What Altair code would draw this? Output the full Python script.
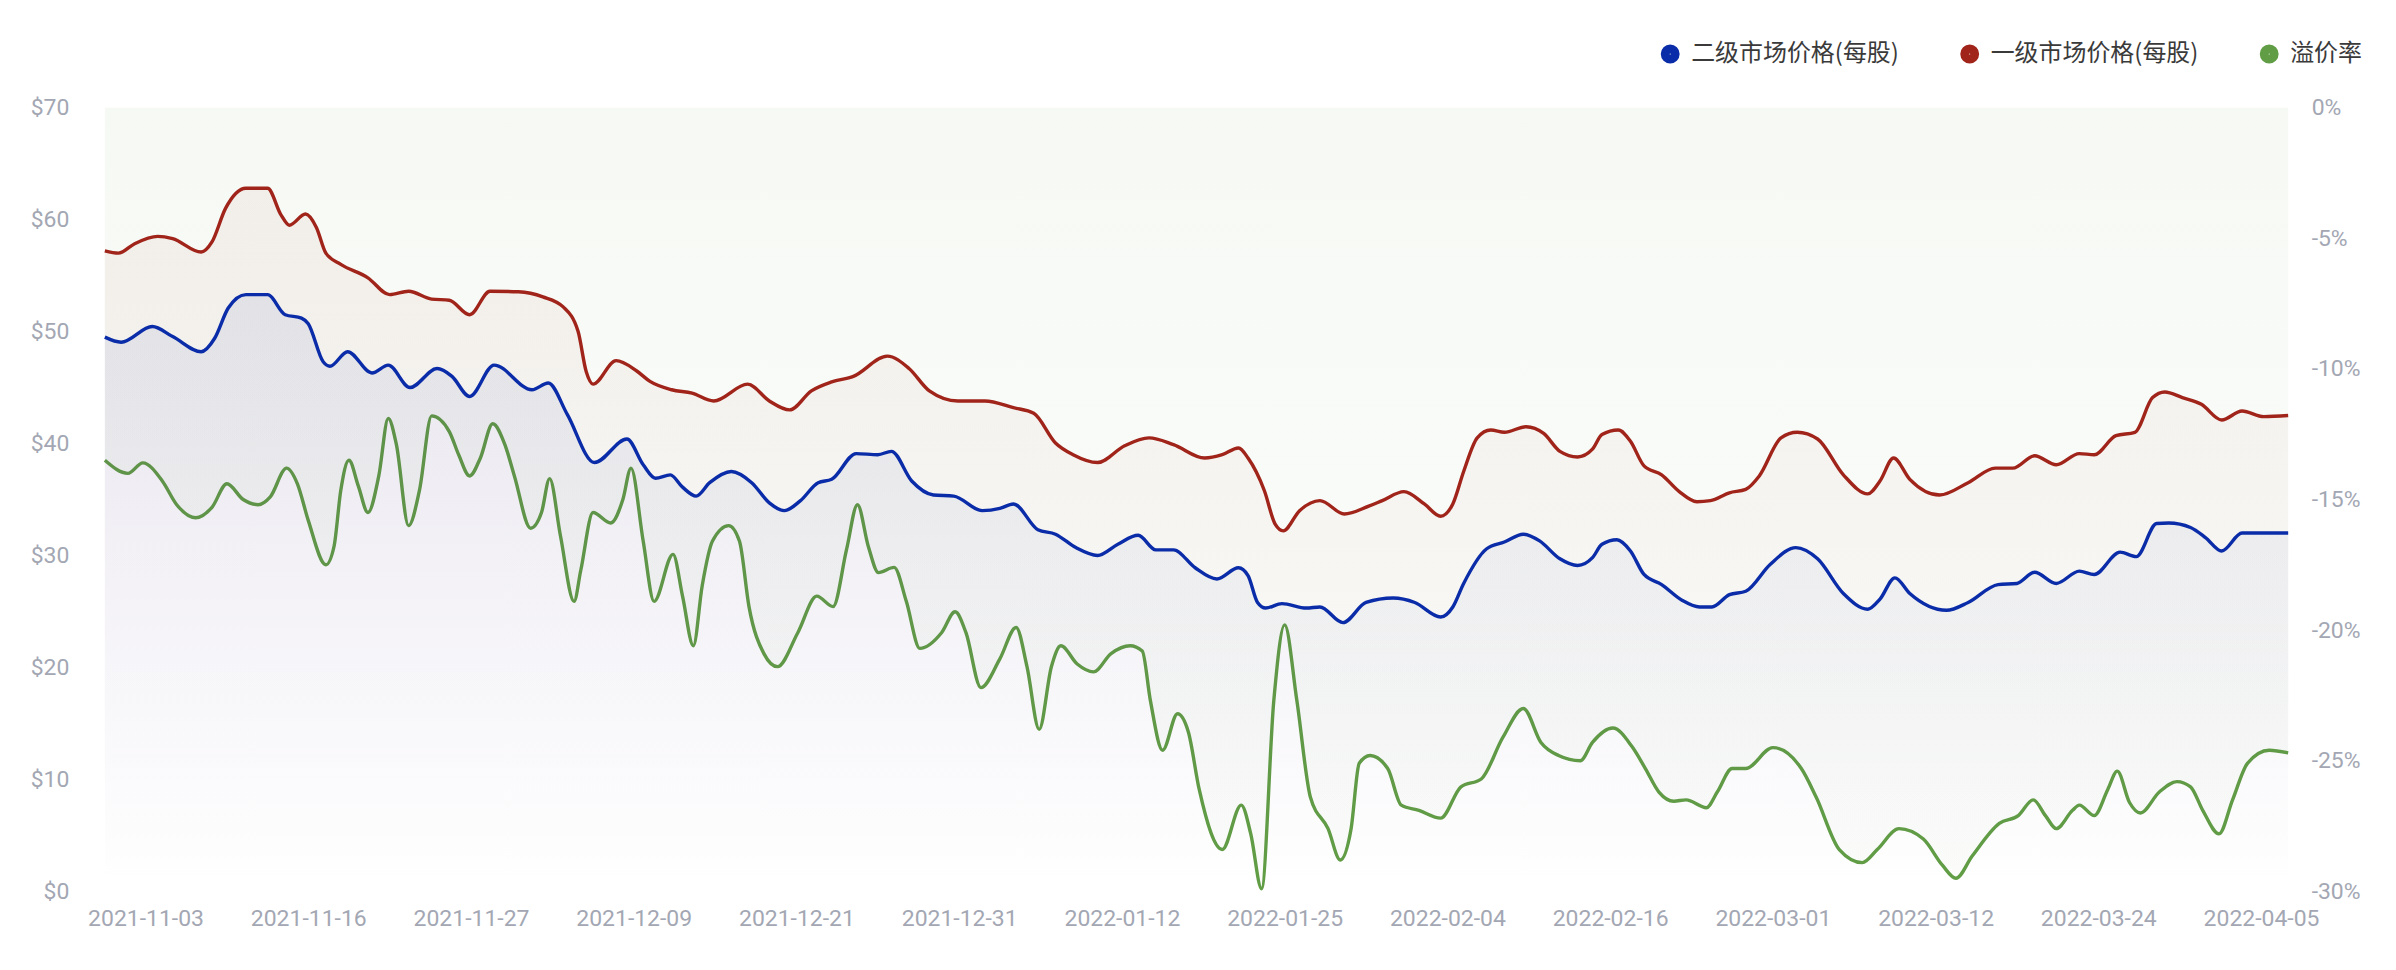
import altair as alt
import pandas as pd

# ---- data (x = position index along the category axis) ----
x_labels = ["2021-11-03", "2021-11-16", "2021-11-27", "2021-12-09", "2021-12-21",
            "2021-12-31", "2022-01-12", "2022-01-25", "2022-02-04", "2022-02-16",
            "2022-03-01", "2022-03-12", "2022-03-24", "2022-04-05"]
label_pos = [3 + 12 * k for k in range(len(x_labels))]

sec_idx = [0, 1.2, 3.5, 5, 7.1, 8.1, 9.1, 10.4, 12, 13.3, 14.5, 15, 16.1, 16.6, 17.9, 19.7, 20.9,
           22.5, 24.5, 25.6, 26.9, 28.7, 31.5, 32.7, 34.1, 36.1, 38.5, 39.7, 40.6, 41.7, 42.6,
           43.6, 44.6, 46.2, 47.7, 49, 50.1, 51.3, 52.6, 53.6, 55.4, 57, 58, 59.5, 61.1, 62.6,
           64.7, 66, 67, 68.8, 70.1, 71.6, 73.2, 74.7, 76.2, 77.5, 78.8, 80.4, 82, 83.6, 84.3,
           85, 85.6, 86.8, 88.6, 89.6, 91.3, 93, 95, 96.6, 98.5, 99.4, 100.2, 101.9, 103.2,
           104.6, 105.8, 107.3, 108.6, 109.7, 110.4, 111.5, 112.5, 113.5, 114.8, 116.3, 117.6,
           118.5, 119.8, 121, 122.8, 124.7, 126.3, 128.2, 130, 130.9, 132, 133.1, 135.8, 137.4,
           139.6, 141, 142.3, 143.9, 145.6, 146.7, 148.6, 149.8, 151.3, 152.2, 153.8, 154.9,
           156.1, 157.6, 159.2, 161]
sec_val = [49.5, 49.05, 50.45, 49.55, 48.2, 49.4, 52.1, 53.3, 53.3, 51.5, 51.2, 50.7, 47.3, 46.9,
           48.2, 46.3, 47.0, 45.0, 46.7, 46.0, 44.2, 47.0, 44.8, 45.4, 42.6, 38.3, 40.4, 38.1,
           36.9, 37.2, 36.1, 35.3, 36.5, 37.5, 36.5, 34.7, 34.0, 34.9, 36.5, 36.8, 39.1, 39.0,
           39.3, 36.65, 35.4, 35.3, 34.0, 34.2, 34.6, 32.3, 31.9, 30.7, 30.0, 31.0, 31.8, 30.5,
           30.5, 28.9, 27.9, 28.9, 28.2, 25.8, 25.3, 25.7, 25.3, 25.4, 24.0, 25.8, 26.2, 25.8,
           24.5, 25.4, 27.5, 30.6, 31.2, 31.9, 31.3, 29.7, 29.1, 29.8, 31.0, 31.4, 30.4, 28.3,
           27.4, 26.0, 25.4, 25.4, 26.5, 26.8, 29.2, 30.7, 29.7, 26.6, 25.2, 26.1, 28.0, 26.6,
           25.1, 25.8, 27.4, 27.5, 28.5, 27.5, 28.6, 28.3, 30.3, 29.9, 32.85, 32.9, 32.5, 31.6,
           30.4, 32.0, 32.0, 32.0]

pri_idx = [0, 1, 2.2, 3.9, 5, 7.1, 7.9, 8.9, 10.4, 12, 13, 13.6, 14.8, 15.6, 16.3, 17.4, 19.4,
           21, 22.4, 24.1, 25.4, 26.9, 28.4, 30.5, 32.3, 33.8, 34.9, 35.5, 36, 37.7, 39.2, 40.2,
           41.8, 43.3, 44.9, 47.4, 49, 50.5, 52.1, 53.6, 55.2, 57.7, 59.3, 60.8, 62.9, 64.9, 67,
           68.5, 70.1, 71.4, 73.2, 75.2, 77, 78.8, 81.1, 82.4, 83.6, 84.3, 85.5, 86.3, 86.9, 88.1,
           89.6, 91.4, 93.2, 94.2, 95.8, 97.3, 98.5, 99.4, 100.2, 101.2, 102.2, 103.2, 104.8,
           106.1, 107.3, 108.6, 109.7, 110.4, 111.6, 112.5, 113.5, 114.8, 116.1, 117.4, 118.4,
           119.8, 121, 122, 123.6, 124.8, 126.3, 128.2, 130, 130.9, 131.9, 133.1, 135.3, 137.4,
           139.4, 140.7, 142.3, 143.9, 145.6, 146.7, 148.3, 149.7, 151, 151.9, 153.2, 154.6,
           156.1, 157.6, 159.2, 161]
pri_val = [57.2, 57.0, 57.85, 58.5, 58.3, 57.1, 58.0, 61.0, 62.8, 62.8, 60.4, 59.5, 60.5, 59.3,
           57.0, 56.0, 54.8, 53.3, 53.6, 52.9, 52.8, 51.5, 53.6, 53.55, 53.1, 52.2, 50.0, 46.4,
           45.3, 47.4, 46.5, 45.55, 44.8, 44.5, 43.8, 45.3, 43.8, 43.0, 44.7, 45.5, 46.0, 47.8,
           46.7, 44.7, 43.8, 43.8, 43.2, 42.7, 40.05, 39.0, 38.3, 39.8, 40.5, 39.9, 38.7, 39.0,
           39.6, 38.7, 35.8, 32.8, 32.2, 34.0, 34.9, 33.7, 34.4, 34.9, 35.7, 34.6, 33.5, 34.6,
           37.5, 40.5, 41.2, 41.0, 41.5, 40.9, 39.3, 38.8, 39.5, 40.8, 41.2, 40.2, 38.0, 37.2,
           35.7, 34.8, 34.9, 35.6, 35.9, 37.1, 40.5, 41.0, 40.4, 37.2, 35.5, 36.65, 38.7, 36.8,
           35.4, 36.5, 37.8, 37.8, 38.9, 38.1, 39.1, 39.0, 40.7, 41.0, 44.1, 44.6, 44.1, 43.5,
           42.1, 42.9, 42.4, 42.5]

prem_idx = [0, 1.7, 2.8, 4.25, 5.3, 6.7, 7.9, 9, 10.2, 11.3, 12.2, 13.4, 14.2, 15, 16.3, 16.9,
            17.4, 18, 18.7, 19.4, 20.2, 20.9, 21.5, 22.4, 23.2, 24.1, 25.4, 26.1, 26.9, 27.7,
            28.6, 29.5, 30.2, 31.4, 32.2, 32.8, 33.6, 34.6, 35.1, 36, 37.3, 38.2, 38.8, 39.7,
            40.5, 41.9, 42.6, 43.4, 44.05, 44.8, 46, 46.8, 47.5, 48.6, 49.6, 51.1, 52.5, 53.7,
            54.7, 55.5, 56.3, 57.05, 58.2, 59.1, 60.1, 61.7, 62.7, 63.5, 64.6, 66, 67.2, 68,
            68.9, 69.8, 70.5, 71.7, 72.9, 74.2, 75.6, 76.5, 77.1, 78, 79.1, 79.9, 80.7, 82.4,
            83.8, 84.5, 85.3, 86.2, 87, 87.9, 88.9, 90.2, 91.1, 91.9, 92.5, 93.3, 94.6, 95.6,
            96.9, 98.5, 100, 101.5, 103.1, 104.6, 105.9, 107.2, 108.8, 109.7, 111.2, 112.6,
            113.6, 114.6, 115.7, 116.6, 118.1, 118.9, 120, 121, 123, 125.1, 126.2, 127.9, 129.6,
            130.7, 132.3, 134.1, 135.5, 136.5, 137.7, 139.7, 141.1, 142.2, 143.1, 143.9, 145.1,
            145.6, 146.7, 147.7, 148.4, 149.3, 150.1, 151.5, 152.8, 153.8, 154.7, 155.9, 156.9,
            158, 159.6, 161]
prem_val = [-13.5, -14.0, -13.6, -14.3, -15.2, -15.7, -15.3, -14.4, -15.0, -15.2, -14.9, -13.8,
            -14.4, -15.8, -17.5, -16.8, -14.65, -13.5, -14.5, -15.5, -14.1, -11.9, -12.9, -16.0,
            -14.65, -11.8, -12.4, -13.3, -14.1, -13.4, -12.1, -12.9, -14.1, -16.1, -15.5, -14.2,
            -16.4, -18.9, -17.7, -15.5, -15.9, -15.0, -13.8, -16.6, -18.9, -17.1, -18.7, -20.6,
            -18.3, -16.6, -16.0, -16.6, -19.1, -20.9, -21.4, -20.1, -18.7, -19.1, -16.9, -15.2,
            -16.8, -17.8, -17.6, -18.9, -20.7, -20.1, -19.3, -20.1, -22.2, -21.1, -19.9, -21.4,
            -23.8, -21.4, -20.6, -21.3, -21.6, -20.9, -20.6, -20.8, -22.7, -24.6, -23.2, -23.9,
            -26.1, -28.4, -26.7, -27.8, -29.9, -22.7, -19.8, -22.7, -26.4, -27.6, -28.8, -27.6,
            -25.1, -24.8, -25.3, -26.7, -26.9, -27.2, -26.0, -25.7, -24.1, -23.0, -24.3, -24.8,
            -25.0, -24.3, -23.75, -24.45, -25.3, -26.2, -26.55, -26.5, -26.8, -26.2, -25.3,
            -25.3, -24.5, -25.3, -26.4, -28.4, -28.9, -28.4, -27.6, -28.0, -29.0, -29.5, -28.65,
            -27.4, -27.1, -26.5, -27.1, -27.6, -26.9, -26.7, -27.1, -26.1, -25.4, -26.6, -27.0,
            -26.2, -25.8, -26.0, -26.9, -27.8, -26.5, -25.1, -24.6, -24.7]

series_names = ["二级市场价格(每股)", "一级市场价格(每股)", "溢价率"]
series_colors = ["#0a2ca8", "#a0241a", "#619d45"]

df_sec = pd.DataFrame({"i": sec_idx, "v": sec_val, "s": series_names[0]})
df_pri = pd.DataFrame({"i": pri_idx, "v": pri_val, "s": series_names[1]})
df_prem = pd.DataFrame({"i": prem_idx, "v": prem_val, "s": series_names[2]})

# ---- styling ----
LABEL_COLOR = "#a3a7b3"
FONT = "Roboto, Noto Sans CJK SC, sans-serif"
LINE_W = 3.4

label_expr = "[" + ",".join("'%s'" % s for s in x_labels) + "][round((datum.value - 3) / 12)]"
x_enc = alt.X(
    "i:Q",
    scale=alt.Scale(domain=[0, 161], nice=False, zero=False),
    axis=alt.Axis(values=label_pos, labelExpr=label_expr, title=None, grid=False,
                  ticks=False, tickSize=0, domain=False, labelPadding=16, labelFontSize=23,
                  labelColor=LABEL_COLOR, labelFont=FONT, labelOverlap=False, labelFlush=False),
)

left_scale = alt.Scale(domain=[0, 70], nice=False, zero=True)
left_axis = alt.Axis(values=list(range(0, 71, 10)), labelExpr="'$' + datum.value", title=None,
                     grid=False, ticks=False, tickSize=0, domain=False, labelPadding=36,
                     labelFontSize=23, labelColor=LABEL_COLOR, labelFont=FONT, orient="left",
                     labelFlush=False)
right_scale = alt.Scale(domain=[-30, 0], nice=False, zero=False)
right_axis = alt.Axis(values=list(range(-30, 1, 5)), labelExpr="datum.value + '%'", title=None,
                      grid=False, ticks=False, tickSize=0, domain=False, labelPadding=23,
                      labelFontSize=23, labelColor=LABEL_COLOR, labelFont=FONT, orient="right",
                      labelFlush=False)

color_scale = alt.Scale(domain=series_names, range=series_colors)
# a circle of radius 5 stroked 10 wide draws as a solid 20px dot
legend = alt.Legend(title=None, orient="none", legendX=1556, legendY=-66, direction="horizontal",
                    columns=3, symbolType="circle", symbolSize=79, symbolStrokeWidth=10,
                    symbolOpacity=1, labelFontSize=24, labelFont="Noto Sans CJK SC",
                    labelColor="#3a3a3a", labelOffset=9, columnPadding=45, padding=0,
                    labelLimit=400)


def grad(top, bottom):
    return alt.Gradient(gradient="linear", x1=0, x2=0, y1=0, y2=1,
                        stops=[alt.GradientStop(color=top, offset=0),
                               alt.GradientStop(color=bottom, offset=1)])


green_area = alt.Chart(df_prem).mark_area(
    interpolate="monotone",
    color=grad("rgba(97,157,69,0.06)", "rgba(97,157,69,0.025)"),
).encode(x=x_enc, y=alt.Y("v:Q", scale=right_scale, axis=right_axis), y2=alt.datum(0))

green_line = alt.Chart(df_prem).mark_line(interpolate="monotone", strokeWidth=LINE_W).encode(
    x=x_enc, y=alt.Y("v:Q", scale=right_scale, axis=right_axis),
    color=alt.Color("s:N", scale=color_scale, legend=legend),
)

red_area = alt.Chart(df_pri).mark_area(
    interpolate="monotone",
    color=grad("rgba(160,36,26,0.055)", "rgba(160,36,26,0.0)"),
).encode(x=x_enc, y=alt.Y("v:Q", scale=left_scale, axis=left_axis), y2=alt.datum(0))

blue_area = alt.Chart(df_sec).mark_area(
    interpolate="monotone",
    color=grad("rgba(10,44,168,0.075)", "rgba(10,44,168,0.0)"),
).encode(x=x_enc, y=alt.Y("v:Q", scale=left_scale, axis=left_axis), y2=alt.datum(0))

red_line = alt.Chart(df_pri).mark_line(interpolate="monotone", strokeWidth=LINE_W).encode(
    x=x_enc, y=alt.Y("v:Q", scale=left_scale, axis=left_axis),
    color=alt.Color("s:N", scale=color_scale, legend=legend),
)
blue_line = alt.Chart(df_sec).mark_line(interpolate="monotone", strokeWidth=LINE_W).encode(
    x=x_enc, y=alt.Y("v:Q", scale=left_scale, axis=left_axis),
    color=alt.Color("s:N", scale=color_scale, legend=legend),
)

right_group = alt.layer(green_area, green_line)
left_group = alt.layer(red_area, blue_area, red_line, blue_line)

chart = alt.layer(right_group, left_group).resolve_scale(y="independent").properties(
    width=2187, height=785,
    autosize=alt.AutoSizeParams(type="none"),
    padding={"left": 97, "top": 99, "right": 100, "bottom": 70},
    background="#ffffff",
).configure_view(stroke=None)

chart.save("out.html", embed_options={"renderer": "svg", "actions": False})
